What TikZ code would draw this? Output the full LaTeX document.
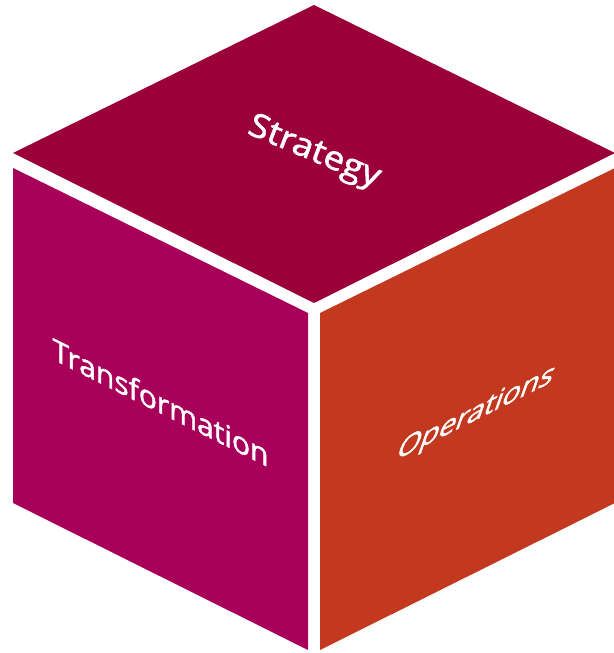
\documentclass[tikz,border=0pt]{standalone}
\usepackage{fontspec}
\setmainfont{Open Sans}[FakeBold=1.6]
\usepackage{tikz}
\usetikzlibrary{calc}

\definecolor{stratcol}{RGB}{155,0,56}
\definecolor{transcol}{RGB}{168,0,90}
\definecolor{opercol}{RGB}{195,57,31}

\tikzset{
    facelabel/.style={text=white,inner sep=0pt,
        font=\fontsize{30}{36}\selectfont}
}

\begin{document}
\begin{tikzpicture}[x=1pt,y=1pt]

% Page frame, same size as the drawing.
\useasboundingbox (0,0) rectangle (613,653);

% Top face of the cube.
% Draw Strategy face.
%
\fill[stratcol]
    (13,500) coordinate (TOPL)
    -- ++ (301,148) coordinate (TOPT)
    -- ++ (301,-148) coordinate (TOPR)
    -- ++ (-301,-150) coordinate (TOPB)
    -- cycle;

% Left face: Transformation.
\fill[transcol]
    (13,485) coordinate (LFTA)
    -- ++ (295,-145) coordinate (LFTB)
    -- ++ (0,-337) coordinate (LFTC)
    -- ++ (-295,147) coordinate (LFTD)
    -- cycle;

% Right face: Operations.
\fill[opercol]
    (320,340) coordinate (RGTA)
    -- ++ (295,145) coordinate (RGTB)
    -- ++ (0,-335) coordinate (RGTC)
    -- ++ (-295,-147) coordinate (RGTD)
    -- cycle;

% Face labels, each one pressed flat on its face.
\node (strategy)[facelabel,cm={1,-0.42,0.35,0.9,(0,0)},
        font=\fontsize{34}{40}\selectfont]
    at ($(TOPL)!0.5!(TOPR)+(0,0)$) {Strategy};

\node (transformation)[facelabel,cm={1,-0.5,0,1,(0,0)}]
    at ($(LFTA)!0.5!(LFTC)+(0,7)$) {Transformation};

\node (operations)[facelabel,cm={1,0.5,0.35,1,(0,0)}]
    at ($(RGTA)!0.5!(RGTC)+(8,-6)$) {Operations};

\end{tikzpicture}
\end{document}
